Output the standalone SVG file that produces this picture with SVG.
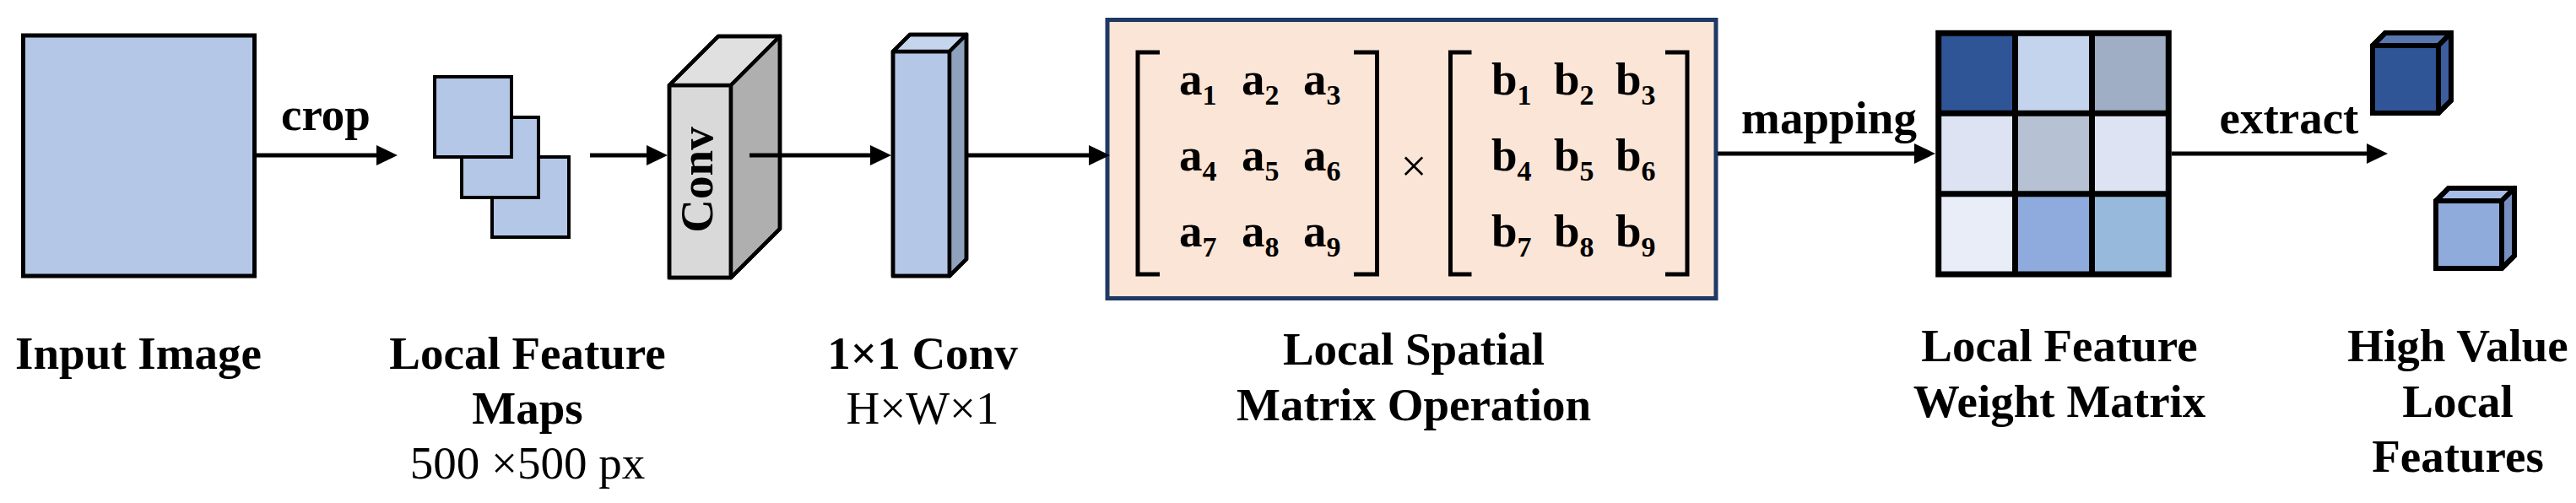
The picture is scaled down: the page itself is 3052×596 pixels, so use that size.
<svg xmlns="http://www.w3.org/2000/svg" width="3052" height="596" viewBox="0 0 3052 596">
<style>
.lbl{font-family:"Liberation Serif","Times New Roman",serif;font-size:55px;font-weight:bold;fill:#000;text-anchor:middle}
.reg{font-family:"Liberation Serif","Times New Roman",serif;font-size:55px;font-weight:normal;fill:#000;text-anchor:middle}
.mx{font-family:"Liberation Serif","Times New Roman",serif;font-size:55px;font-weight:bold;fill:#000}
.sub{font-size:34px}
.face{stroke:#000;stroke-width:4.5;stroke-linejoin:round}
.sil{stroke:#000;stroke-width:4.5;stroke-linejoin:miter;fill:none}
.cface{stroke:#000;stroke-width:6;stroke-linejoin:round}
.csil{stroke:#000;stroke-width:6;stroke-linejoin:miter;fill:none}
.conn{stroke:#000;stroke-width:5;fill:none}
.br{stroke:#000;stroke-width:5;fill:none;stroke-linejoin:miter}
.blue{fill:#B4C7E7}
</style>
<defs>
<marker id="ah" markerUnits="userSpaceOnUse" markerWidth="25" markerHeight="24" refX="15" refY="12" orient="auto">
<path d="M0,0 L25,12 L0,24 Z" fill="#000"/>
</marker>
</defs>
<rect width="3052" height="596" fill="#fff"/>

<g id="input-image">
<rect class="blue" x="27.5" y="42" width="274" height="285" stroke="#000" stroke-width="5"/>
<text class="lbl" x="164" y="437">Input Image</text>
</g>

<g id="local-feature-maps">
<rect class="blue" x="583" y="186" width="91" height="95" stroke="#000" stroke-width="4"/>
<rect class="blue" x="547" y="139" width="91" height="95" stroke="#000" stroke-width="4"/>
<rect class="blue" x="515" y="91" width="91" height="95" stroke="#000" stroke-width="4"/>
<text class="lbl" x="625" y="437">Local Feature</text>
<text class="lbl" x="625" y="502">Maps</text>
<text class="reg" x="625" y="567">500 ×500 px</text>
</g>

<g id="conv">
<rect class="face" x="793" y="101" width="73" height="228" fill="#D9D9D9"/>
<path class="face" d="M793,101 L851,43 L924,43 L866,101 Z" fill="#E0E0E0"/>
<path class="face" d="M866,101 L924,43 L924,271 L866,329 Z" fill="#AFAFAF"/>
<path class="sil" d="M793,101 L851,43 L924,43 L924,271 L866,329 L793,329 Z"/>
<text class="lbl" transform="translate(844,213) rotate(-90)" x="0" y="0">Conv</text>
</g>

<g id="conv1x1">
<rect class="face blue" x="1058" y="61" width="67" height="266"/>
<path class="face" d="M1058,61 L1078,41 L1145,41 L1125,61 Z" fill="#C6D5EE"/>
<path class="face" d="M1125,61 L1145,41 L1145,307 L1125,327 Z" fill="#8FA2BD"/>
<path class="sil" d="M1058,61 L1078,41 L1145,41 L1145,307 L1125,327 L1058,327 Z"/>
<text class="lbl" x="1093" y="437">1×1 Conv</text>
<text class="reg" x="1093" y="502">H×W×1</text>
</g>

<g id="matrix-operation">
<rect x="1312" y="23.5" width="721" height="330" fill="#FBE5D6" stroke="#1F3864" stroke-width="5"/>
<path class="br" d="M1374,62 H1348 V325 H1374"/>
<path class="br" d="M1604,62 H1631.5 V325 H1604"/>
<path class="br" d="M1743.5,62 H1718.5 V325 H1743.5"/>
<path class="br" d="M1973,62 H1999 V325 H1973"/>
<text class="mx" x="1397" y="112">a<tspan class="sub" dy="12">1</tspan></text>
<text class="mx" x="1471" y="112">a<tspan class="sub" dy="12">2</tspan></text>
<text class="mx" x="1544" y="112">a<tspan class="sub" dy="12">3</tspan></text>
<text class="mx" x="1397" y="202">a<tspan class="sub" dy="12">4</tspan></text>
<text class="mx" x="1471" y="202">a<tspan class="sub" dy="12">5</tspan></text>
<text class="mx" x="1544" y="202">a<tspan class="sub" dy="12">6</tspan></text>
<text class="mx" x="1397" y="292">a<tspan class="sub" dy="12">7</tspan></text>
<text class="mx" x="1471" y="292">a<tspan class="sub" dy="12">8</tspan></text>
<text class="mx" x="1544" y="292">a<tspan class="sub" dy="12">9</tspan></text>
<text class="reg" x="1675" y="215">×</text>
<text class="mx" x="1767" y="112">b<tspan class="sub" dy="12">1</tspan></text>
<text class="mx" x="1841" y="112">b<tspan class="sub" dy="12">2</tspan></text>
<text class="mx" x="1914" y="112">b<tspan class="sub" dy="12">3</tspan></text>
<text class="mx" x="1767" y="202">b<tspan class="sub" dy="12">4</tspan></text>
<text class="mx" x="1841" y="202">b<tspan class="sub" dy="12">5</tspan></text>
<text class="mx" x="1914" y="202">b<tspan class="sub" dy="12">6</tspan></text>
<text class="mx" x="1767" y="292">b<tspan class="sub" dy="12">7</tspan></text>
<text class="mx" x="1841" y="292">b<tspan class="sub" dy="12">8</tspan></text>
<text class="mx" x="1914" y="292">b<tspan class="sub" dy="12">9</tspan></text>
<text class="lbl" x="1675" y="432">Local Spatial</text>
<text class="lbl" x="1675" y="498">Matrix Operation</text>
</g>

<g id="weight-matrix">
<rect x="2296.7" y="39.3" width="90.8" height="95" fill="#2F5597"/>
<rect x="2387.5" y="39.3" width="91" height="95" fill="#C5D4ED"/>
<rect x="2478.5" y="39.3" width="90.8" height="95" fill="#9FAEC5"/>
<rect x="2296.7" y="134.3" width="90.8" height="95.4" fill="#DDE3F3"/>
<rect x="2387.5" y="134.3" width="91" height="95.4" fill="#B6C2D3"/>
<rect x="2478.5" y="134.3" width="90.8" height="95.4" fill="#DDE3F3"/>
<rect x="2296.7" y="229.7" width="90.8" height="95.3" fill="#E9EDF8"/>
<rect x="2387.5" y="229.7" width="91" height="95.3" fill="#8FABDD"/>
<rect x="2478.5" y="229.7" width="90.8" height="95.3" fill="#97BADC"/>
<path d="M2387.5,39.3 V325 M2478.5,39.3 V325 M2296.7,134.3 H2569.3 M2296.7,229.7 H2569.3" stroke="#000" stroke-width="7" fill="none"/>
<rect x="2296.7" y="39.3" width="272.6" height="285.7" fill="none" stroke="#000" stroke-width="7"/>
<text class="lbl" x="2440" y="428">Local Feature</text>
<text class="lbl" x="2440" y="494">Weight Matrix</text>
</g>

<g id="high-value-features">
<rect class="cface" x="2811" y="54" width="78" height="80" fill="#2F5597"/>
<path class="cface" d="M2811,54 L2826,39 L2904,39 L2889,54 Z" fill="#5877B0"/>
<path class="cface" d="M2889,54 L2904,39 L2904,119 L2889,134 Z" fill="#3D5E9E"/>
<path class="csil" d="M2811,54 L2826,39 L2904,39 L2904,119 L2889,134 L2811,134 Z"/>
<rect class="cface" x="2886" y="238" width="78" height="80" fill="#8FABDC"/>
<path class="cface" d="M2886,238 L2901,223 L2979,223 L2964,238 Z" fill="#A7BCE6"/>
<path class="cface" d="M2964,238 L2979,223 L2979,303 L2964,318 Z" fill="#7890C0"/>
<path class="csil" d="M2886,238 L2901,223 L2979,223 L2979,303 L2964,318 L2886,318 Z"/>
<text class="lbl" x="2912" y="428">High Value</text>
<text class="lbl" x="2912" y="494">Local</text>
<text class="lbl" x="2912" y="559">Features</text>
</g>

<g id="connectors">
<path class="conn" d="M304,184 H461" marker-end="url(#ah)"/>
<path class="conn" d="M699,184 H781" marker-end="url(#ah)"/>
<path class="conn" d="M888,184 H1046" marker-end="url(#ah)"/>
<path class="conn" d="M1147,184 H1305" marker-end="url(#ah)"/>
<path class="conn" d="M2035,182 H2283" marker-end="url(#ah)"/>
<path class="conn" d="M2573,182 H2819" marker-end="url(#ah)"/>
<text class="lbl" x="386" y="154">crop</text>
<text class="lbl" x="2167" y="158">mapping</text>
<text class="lbl" x="2712" y="158">extract</text>
</g>
</svg>
